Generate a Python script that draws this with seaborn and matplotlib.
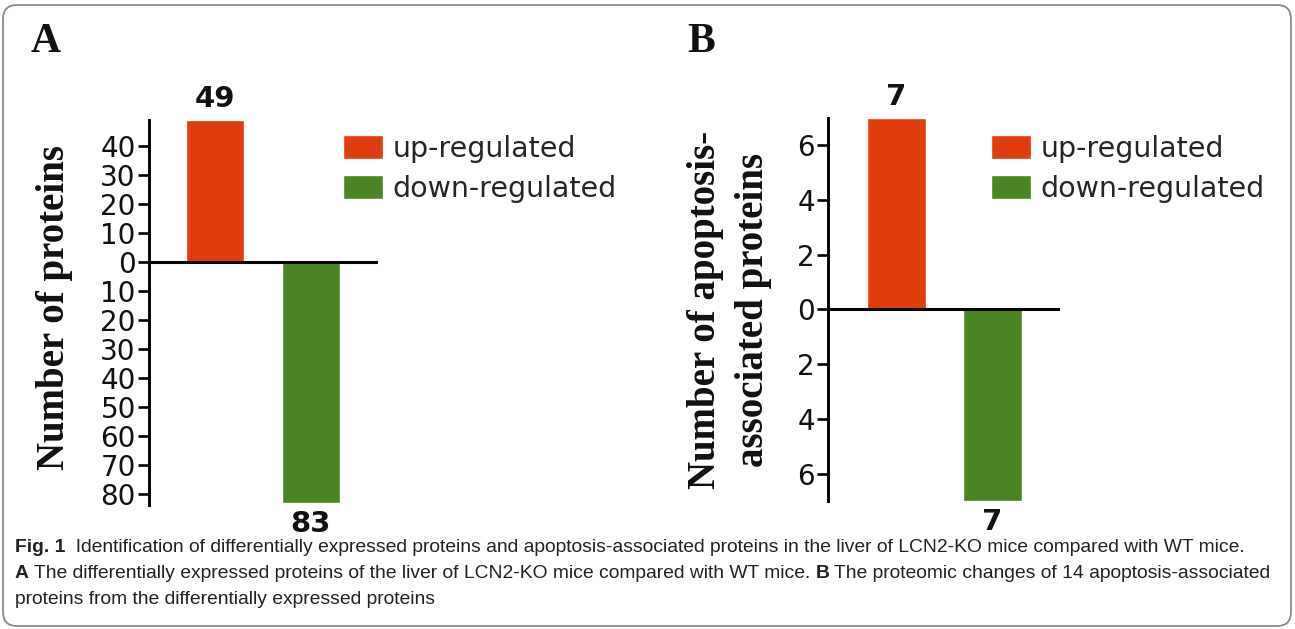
import matplotlib
matplotlib.use("Agg")
from matplotlib import pyplot as plt
from matplotlib.patches import FancyBboxPatch
from matplotlib.transforms import IdentityTransform
from matplotlib.ticker import FixedLocator, FuncFormatter
import seaborn as sns
import pandas as pd

regulation = ['up-regulated', 'down-regulated']
proteins_all = [49, -83]
proteins_apoptosis = [7, -7]
ticks_all = [40, 30, 20, 10, 0, -10, -20, -30, -40, -50, -60, -70, -80]
ticks_apoptosis = [6, 4, 2, 0, -2, -4, -6]
bar_colors = ['#e03c0e', '#4b8424']

caption_lines = [
    [('Fig. 1', True), ('  Identification of differentially expressed proteins and apoptosis-associated '
                        'proteins in the liver of LCN2-KO mice compared with WT mice.', False)],
    [('A', True), (' The differentially expressed proteins of the liver of LCN2-KO mice compared '
                   'with WT mice. ', False), ('B', True),
     (' The proteomic changes of 14 apoptosis-associated', False)],
    [('proteins from the differentially expressed proteins', False)],
]

sns.set_style('white')
plt.rcParams['font.family'] = ['DejaVu Sans']

W, H = 1295, 629
fig = plt.figure(figsize=(W / 100, H / 100), dpi=100)

# rounded frame around the whole figure
frame = FancyBboxPatch((3, 3), 1288, 621, boxstyle='round,pad=0,rounding_size=14',
                       transform=IdentityTransform(), facecolor='none',
                       edgecolor='#8a8a8a', linewidth=1.3)
fig.patches.append(frame)


def plot_panel(rect, values, ticks, ylim, xlim, ylabel, label_x, tick_pad, linespacing):
    ax = fig.add_axes(rect)
    df = pd.DataFrame({'Regulation': regulation, 'Count': values})
    sns.barplot(data=df, x='Regulation', y='Count', hue='Regulation',
                palette=bar_colors, saturation=1, width=0.61, ax=ax, legend=True)
    ax.axhline(0, color='black', lw=2.2, zorder=5)
    ax.set_ylim(*ylim)
    ax.set_xlim(*xlim)
    ax.yaxis.set_major_locator(FixedLocator(ticks))
    ax.yaxis.set_major_formatter(FuncFormatter(lambda v, p: f'{abs(v):g}'))
    ax.tick_params(axis='y', left=True, length=8, width=1.9, pad=tick_pad,
                   labelsize=20, color='black', labelcolor='#111111')
    ax.set_xticks([])
    ax.set_xlabel('')
    sns.despine(ax=ax, bottom=True)
    ax.spines['left'].set_linewidth(2.1)
    ax.spines['left'].set_color('black')
    for c in ax.containers:
        ax.bar_label(c, labels=[f'{abs(v):g}' for v in c.datavalues],
                     padding=5, fontsize=21, fontweight='bold', color='#111111')
    ax.set_ylabel(ylabel, family='Liberation Serif', fontweight='bold',
                  fontsize=28, linespacing=linespacing, color='#111111')
    return ax


ax_a = plot_panel([149 / W, 0.197, 229 / W, 0.612], proteins_all, ticks_all,
                  (-83.8, 49), (-0.69, 1.70), 'Number of proteins', -0.335, 1.5, 1.2)
ax_a.yaxis.set_label_coords(-0.33, 0.513)
ax_b = plot_panel([828 / W, 0.2035, 232 / W, 0.609], proteins_apoptosis,
                  ticks_apoptosis, (-7, 7), (-0.71, 1.70),
                  'Number of apoptosis-\nassociated proteins', -0.285, 1.5, 1.4)
ax_b.yaxis.set_label_coords(-0.24, 0.5)

for ax, lx in [(ax_a, 343), (ax_b, 991)]:
    sns.move_legend(ax, 'upper left', bbox_to_anchor=(lx / W, 1 - 135 / H),
                    bbox_transform=fig.transFigure, frameon=False, title=None,
                    fontsize=20.5, handlelength=1.4, handleheight=0.9,
                    handletextpad=0.35, labelspacing=0.42, borderpad=0,
                    borderaxespad=0)

fig.text(31 / W, 1 - 42 / H, 'A', family='Liberation Serif', fontweight='bold',
         fontsize=30, va='center', color='#111111')
fig.text(687 / W, 1 - 42 / H, 'B', family='Liberation Serif', fontweight='bold',
         fontsize=30, va='center', color='#111111')

# caption, written run by run so the bold parts sit inline
fig.canvas.draw()
renderer = fig.canvas.get_renderer()
for i, runs in enumerate(caption_lines):
    x = 15
    y = 1 - (552 + 26 * i) / H
    for text, bold in runs:
        t = fig.text(x / W, y, text, family='Liberation Sans', fontsize=13.9,
                     fontweight='bold' if bold else 'normal', va='baseline',
                     color='#222222')
        x += t.get_window_extent(renderer).width

fig.savefig('out.png', dpi=100)
